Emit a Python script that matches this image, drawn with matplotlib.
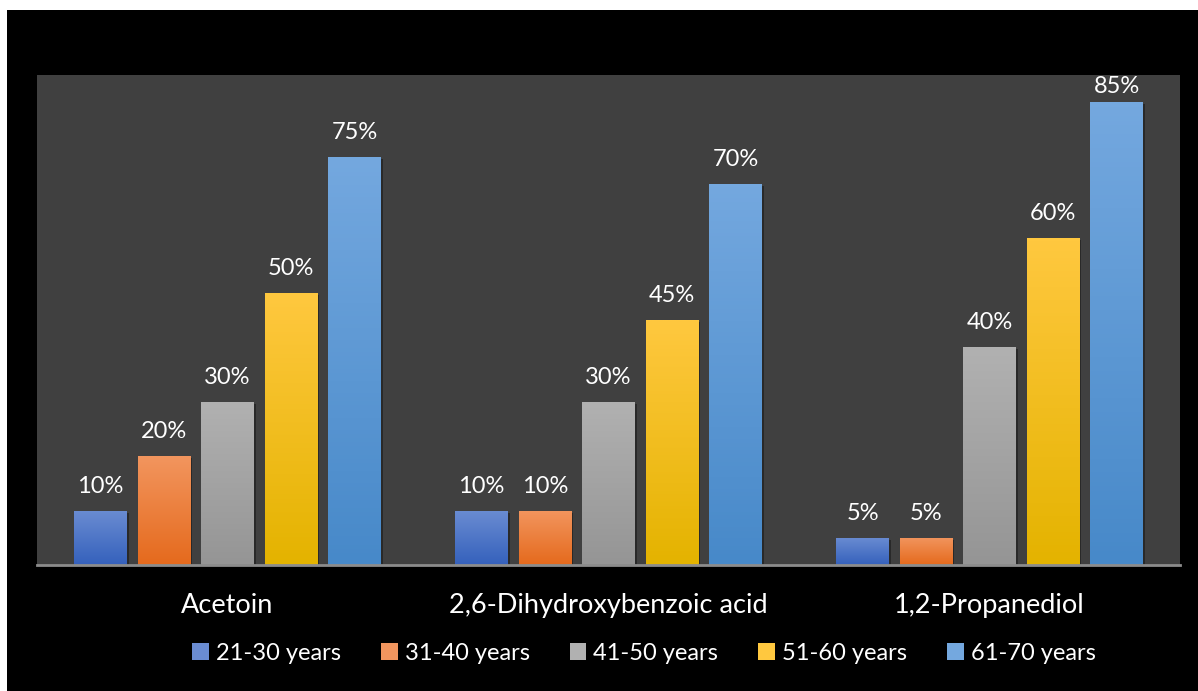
import matplotlib.pyplot as plt
import matplotlib.patheffects as pe
from matplotlib.colors import LinearSegmentedColormap
from matplotlib.patches import Rectangle
import numpy as np

plt.rcParams['font.family'] = ['Lato', 'DejaVu Sans']

# data
categories = ['Acetoin', '2,6-Dihydroxybenzoic acid', '1,2-Propanediol']
series = ['21-30 years', '31-40 years', '41-50 years', '51-60 years', '61-70 years']
values = {
    '21-30 years': [10, 10, 5],
    '31-40 years': [20, 10, 5],
    '41-50 years': [30, 30, 40],
    '51-60 years': [50, 45, 60],
    '61-70 years': [75, 70, 85],
}
# (top colour, bottom colour) for each series
grad = {
    '21-30 years': ('#6A8CD2', '#3561BC'),
    '31-40 years': ('#F2955E', '#E56A1D'),
    '41-50 years': ('#B1B1B1', '#959595'),
    '51-60 years': ('#FFC83F', '#E4B300'),
    '61-70 years': ('#74A8DF', '#4789C9'),
}
ymax = 90

W, H = 1198, 691
fig = plt.figure(figsize=(W / 100, H / 100), dpi=100, facecolor='white')
fig.patches.append(Rectangle((7 / W, 0), 1 - 7 / W, (H - 10) / H,
                             transform=fig.transFigure, facecolor='black',
                             edgecolor='none', zorder=-10))
ax = fig.add_axes([37 / W, 1 - 565 / H, (1180 - 37) / W, (565 - 75) / H])
ax.set_facecolor('#404040')

x = np.arange(len(categories))
step = 1 / 6
width = 0.137
shadow = [pe.SimplePatchShadow(offset=(1.5, -1.5), shadow_rgbFace='black', alpha=0.35), pe.Normal()]

for i, s in enumerate(series):
    xs = x + (i - 2) * step
    top, bot = grad[s]
    cmap = LinearSegmentedColormap.from_list(s, [bot, top])
    bars = ax.bar(xs, values[s], width, color=bot, label=s, zorder=2, path_effects=shadow)
    for b, v in zip(bars, values[s]):
        img = ax.imshow(np.linspace(0, 1, 100).reshape(-1, 1), cmap=cmap, origin='lower',
                        aspect='auto', extent=[b.get_x(), b.get_x() + b.get_width(), 0, v],
                        zorder=3)
        img.set_clip_path(b)
        cx = b.get_x() + b.get_width() / 2
        if v > ymax - 8:
            # label would leave the plot area, keep it inside like Excel does
            ax.annotate(f'{v}%', (cx, ymax), xytext=(0, -1), textcoords='offset points',
                        ha='center', va='top', color='white', fontsize=17)
        else:
            ax.annotate(f'{v}%', (cx, v), xytext=(0, 10), textcoords='offset points',
                        ha='center', va='bottom', color='white', fontsize=17)

ax.set_xlim(-0.5, 2.5)
ax.set_ylim(0, ymax)
ax.set_yticks([])
ax.set_xticks(x)
ax.set_xticklabels(categories, color='white', fontsize=19.5)
ax.tick_params(axis='x', length=0, pad=20)
for side in ['top', 'right', 'left']:
    ax.spines[side].set_visible(False)
ax.spines['bottom'].set_color('#8C8C8C')
ax.spines['bottom'].set_linewidth(2)
ax.spines['bottom'].set_zorder(5)

handles = [Rectangle((0, 0), 1, 1, facecolor=grad[s][0]) for s in series]
leg = fig.legend(handles, series, loc='center', bbox_to_anchor=(644 / W, 1 - 653 / H),
                 ncol=5, frameon=False, fontsize=17, labelcolor='white',
                 handlelength=0.7, handleheight=0.7, handletextpad=0.3, columnspacing=1.7)

fig.savefig('out.png', dpi=100, facecolor=fig.get_facecolor())
